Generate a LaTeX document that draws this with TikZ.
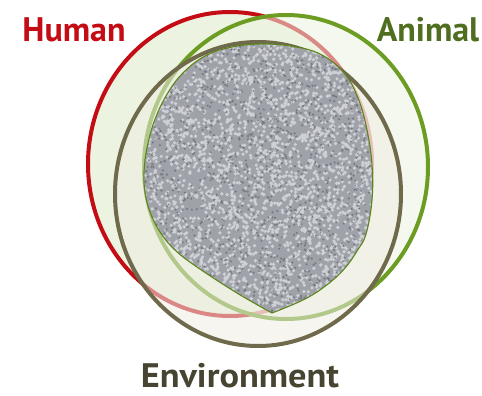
\documentclass[tikz,border=0pt]{standalone}
\usepackage{fontspec}
\newfontfamily\labelfont{PT Sans}
\usetikzlibrary{positioning}
\definecolor{humanred}{RGB}{196,12,20}
\definecolor{animalgreen}{RGB}{108,156,34}
\definecolor{animalink}{RGB}{80,110,32}
\definecolor{envbrown}{RGB}{112,106,76}
\definecolor{envink}{RGB}{72,68,50}
\definecolor{paletint}{RGB}{236,243,224}
\definecolor{envtint}{RGB}{238,237,226}
\definecolor{stonegray}{RGB}{160,162,170}
\definecolor{stonelight}{RGB}{226,228,234}
\definecolor{stonedark}{RGB}{80,82,90}

\begin{document}
\begin{tikzpicture}[
  x=1pt, y=-1pt,
  setline/.style={line width=4pt},
  setlabel/.style={font={\labelfont\bfseries\fontsize{34}{34}\selectfont},
    inner sep=0pt, anchor=base},
  lightgrain/.style={stonelight, opacity=0.7},
  darkgrain/.style={stonedark, opacity=0.5},
]
\useasboundingbox (0,0) rectangle (482,396);

% Three equal ellipses, one per domain.
\def\humanset{(230,164) ellipse [x radius=142pt, y radius=152pt]}
\def\animalset{(286,167) ellipse [x radius=142pt, y radius=152pt]}
\def\envset{(258,194) ellipse [x radius=143pt, y radius=152pt]}

% Shared core, pointed at the bottom.
\def\corepath{plot[smooth, tension=0.65] coordinates {
  (272,313) (237,293) (197,267) (175,250) (160,232) (150,212) (145,192)
  (144,172) (147,148) (154,122) (166,96) (182,74) (205,56)
  (232,47) (260,44) (290,46) (320,54) (344,73) (358,98) (367,130)
  (372,165) (372,200) (366,234) (357,251) (345,268) (328,284) (305,299)
  (272,313)} -- cycle}

% -------------------------------------------------------------------------
% Sets, drawn in turn so that later fills veil earlier outlines.
% -------------------------------------------------------------------------
\fill[paletint] \humanset;
\draw[setline, humanred] \humanset;

\fill[paletint, fill opacity=0.55] \animalset;
\draw[setline, animalgreen] \animalset;

\fill[envtint, fill opacity=0.55] \envset;
\draw[setline, envbrown] \envset;

% -------------------------------------------------------------------------
% Common core, filled with a stone grain.
% -------------------------------------------------------------------------
\fill[stonegray] \corepath;
\begin{scope}
  \clip \corepath;
  \pgfmathsetseed{4711}
  \fill[lightgrain] \foreach \k in {1,...,3000}
    {({142+232*rnd},{42+275*rnd}) circle (1.8pt)};
  \fill[darkgrain] \foreach \k in {1,...,1400}
    {({142+232*rnd},{42+275*rnd}) circle (1.2pt)};
\end{scope}
\draw[animalgreen!85!black, line width=1.1pt] \corepath;

\node[setlabel, text=humanred] (human) at (74,42) {Human};
\node[setlabel, text=animalink] (animal) at (428,42) {Animal};
\node[setlabel, text=envink, xscale=1.07] (environment) at (240,387)
  {Environment};

\end{tikzpicture}
\end{document}
